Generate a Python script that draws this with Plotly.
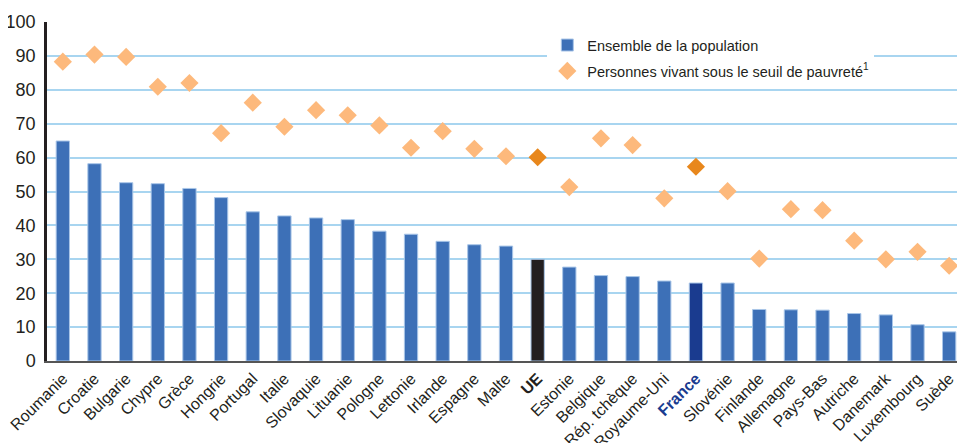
import plotly.graph_objects as go

countries = ["Roumanie", "Croatie", "Bulgarie", "Chypre", "Grèce", "Hongrie", "Portugal", "Italie",
             "Slovaquie", "Lituanie", "Pologne", "Lettonie", "Irlande", "Espagne", "Malte", "UE",
             "Estonie", "Belgique", "Rép. tchèque", "Royaume-Uni", "France", "Slovénie", "Finlande",
             "Allemagne", "Pays-Bas", "Autriche", "Danemark", "Luxembourg", "Suède"]
population = [64.9, 58.2, 52.6, 52.3, 50.9, 48.2, 44.0, 42.8, 42.2, 41.7, 38.3, 37.4, 35.3, 34.3, 33.9,
              30.0, 27.7, 25.2, 24.9, 23.6, 23.0, 23.0, 15.2, 15.1, 15.0, 14.0, 13.6, 10.7, 8.6]
pauvres = [88.3, 90.4, 89.7, 80.9, 82.0, 67.2, 76.2, 69.1, 74.0, 72.5, 69.5, 62.9, 67.8, 62.6, 60.4,
           60.1, 51.3, 65.7, 63.7, 48.0, 57.3, 50.1, 30.2, 44.8, 44.5, 35.5, 30.0, 32.2, 28.1]
y_ticks = [0, 10, 20, 30, 40, 50, 60, 70, 80, 90, 100]

BLUE = "#3d70b7"
BAR_COLORS = {"UE": "#231f20", "France": "#1a3b8f"}
ORANGE = "#fdb97c"
DARK_ORANGE = "#e8871c"

bar_colors = [BAR_COLORS.get(c, BLUE) for c in countries]
dia_colors = [DARK_ORANGE if c in ("UE", "France") else ORANGE for c in countries]

def tick_label(c):
    if c == "UE":
        return "<b>UE</b>"
    if c == "France":
        return "<span style='color:#1a3b8f'><b>France</b></span>"
    return c

FONT = "Liberation Sans Narrow, Arial Narrow, Liberation Sans, sans-serif"

fig = go.Figure()
fig.add_trace(go.Bar(
    x=countries, y=population, name="Ensemble de la population",
    marker=dict(color=bar_colors, line=dict(color="#a9c6e8", width=1)),
    width=0.42, legendgroup="a",
))
fig.add_trace(go.Scatter(
    x=countries, y=pauvres, mode="markers",
    name="Personnes vivant sous le seuil de pauvreté<sup>1</sup>",
    marker=dict(symbol="diamond", size=14, color=dia_colors, line=dict(width=0)),
    legendgroup="b",
))

# page body has an 8px margin: the figure is sized/offset to compensate
fig.update_layout(
    width=957, height=435,
    margin=dict(l=39, r=0, t=14, b=82),
    plot_bgcolor="white", paper_bgcolor="white",
    font=dict(family=FONT, color="#231f20"),
    showlegend=True,
    legend=dict(x=0.545, y=0.979, xanchor="left", yanchor="top",
                bgcolor="white", font=dict(size=14.5, family=FONT, color="#231f20"),
                itemwidth=30, tracegroupgap=4),
    xaxis=dict(
        tickmode="array", tickvals=countries, ticktext=[tick_label(c) for c in countries],
        tickangle=-45, tickfont=dict(size=16, family=FONT, color="#231f20"),
        showline=True, linecolor="#555555", linewidth=2, ticks="", showgrid=False,
        range=[-0.5, len(countries) - 0.5], automargin=False,
    ),
    yaxis=dict(
        range=[0, 100], tickvals=y_ticks, tickfont=dict(size=18, family=FONT, color="#231f20"),
        showgrid=True, gridcolor="#a8d5f0", gridwidth=1.5,
        showline=True, linecolor="#231f20", linewidth=2.5, ticks="",
        zeroline=False, ticklabelstandoff=5, automargin=False,
    ),
    bargap=0.5,
)
fig.add_annotation(text="en %", xref="paper", yref="paper", x=-0.003, y=1.03,
                   showarrow=False, xanchor="left", yanchor="bottom",
                   font=dict(size=14, family=FONT, color="#231f20"))

fig.write_html("out.html")
